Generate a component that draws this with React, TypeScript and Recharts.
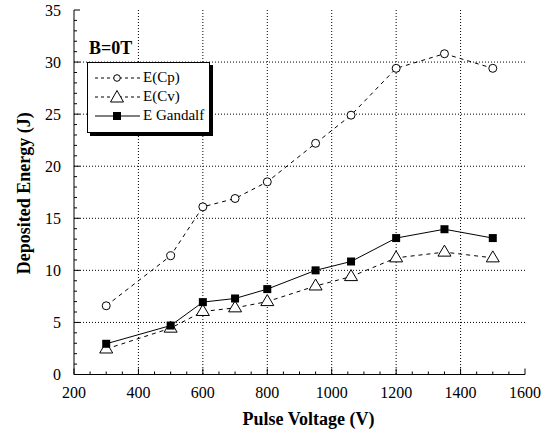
import React from 'react';
import { LineChart, Line, XAxis, YAxis, CartesianGrid, Legend, Label } from 'recharts';

const FONT = '"Liberation Serif", "Times New Roman", serif';

const voltage = [300, 500, 600, 700, 800, 950, 1060, 1200, 1350, 1500];
const energyCp = [6.6, 11.4, 16.1, 16.9, 18.5, 22.2, 24.9, 29.4, 30.8, 29.4];
const energyCv = [2.45, 4.45, 6.05, 6.4, 7.0, 8.5, 9.4, 11.2, 11.75, 11.2];
const energyGandalf = [2.95, 4.7, 6.95, 7.3, 8.2, 10.0, 10.85, 13.1, 13.95, 13.1];

const xMajor = [200, 400, 600, 800, 1000, 1200, 1400, 1600];
const yMajor = [0, 5, 10, 15, 20, 25, 30, 35];
const xAll: number[] = [];
for (let v = 200; v <= 1600; v += 50) xAll.push(v);
const yAll: number[] = [];
for (let v = 0; v <= 35; v += 1) yAll.push(v);

const X_DOMAIN = [200, 1600];
const Y_DOMAIN = [0, 35];

const data = voltage.map((v, i) => ({
  voltage: v,
  cp: energyCp[i],
  cv: energyCv[i],
  gandalf: energyGandalf[i],
}));

const X_MARGIN = 12;
const Y_MARGIN = 13;

const BottomTick = (props: any) => {
  const { x, y, payload } = props;
  const major = xMajor.includes(payload.value);
  const axisY = y - X_MARGIN;
  return (
    <g>
      <line x1={x} x2={x} y1={axisY} y2={axisY - (major ? 6 : 3)} stroke="#000" />
      {major && (
        <text x={x} y={y} dy="0.71em" textAnchor="middle" fontSize={16} fontFamily={FONT} fill="#000">
          {payload.value}
        </text>
      )}
    </g>
  );
};

const LeftTick = (props: any) => {
  const { x, y, payload } = props;
  const major = yMajor.includes(payload.value);
  const axisX = x + Y_MARGIN;
  return (
    <g>
      <line x1={axisX} x2={axisX + (major ? 6 : 3)} y1={y} y2={y} stroke="#000" />
      {major && (
        <text x={x} y={y} dy="0.35em" textAnchor="end" fontSize={16} fontFamily={FONT} fill="#000">
          {payload.value}
        </text>
      )}
    </g>
  );
};

const TopTick = (props: any) => {
  const { x, y, payload } = props;
  const major = xMajor.includes(payload.value);
  return <line x1={x} x2={x} y1={y} y2={y + (major ? 6 : 3)} stroke="#000" />;
};

const RightTick = (props: any) => {
  const { x, y, payload } = props;
  const major = yMajor.includes(payload.value);
  return <line x1={x} x2={x - (major ? 6 : 3)} y1={y} y2={y} stroke="#000" />;
};

const CircleDot = (props: any) => {
  const { cx, cy, index } = props;
  return <circle key={`c${index}`} cx={cx} cy={cy} r={4} fill="#fff" stroke="#000" strokeWidth={1} />;
};

const TriangleDot = (props: any) => {
  const { cx, cy, index } = props;
  return (
    <path
      key={`t${index}`}
      d={`M${cx},${cy - 7} L${cx + 6.5},${cy + 4} L${cx - 6.5},${cy + 4} Z`}
      fill="#fff"
      stroke="#000"
      strokeWidth={1}
    />
  );
};

const SquareDot = (props: any) => {
  const { cx, cy, index } = props;
  return <rect key={`s${index}`} x={cx - 4} y={cy - 4} width={8} height={8} fill="#000" />;
};

const legendRows = [
  { name: 'E(Cp)', dash: '3 3', mark: 'circle' },
  { name: 'E(Cv)', dash: '3 3', mark: 'triangle' },
  { name: 'E Gandalf', dash: undefined, mark: 'square' },
];

const LegendBox = () => (
  <div style={{ fontFamily: FONT, color: '#000', width: 130 }}>
    <div style={{ fontWeight: 'bold', fontSize: 18, lineHeight: '20px', marginLeft: 2, marginBottom: 4 }}>B=0T</div>
    <div
      style={{
        boxSizing: 'border-box',
        border: '1px solid #000',
        boxShadow: '3px 3px 0 #000',
        background: '#fff',
        width: 123,
        padding: '5px 3px 7px 7px',
      }}
    >
      {legendRows.map((r) => (
        <div key={r.name} style={{ display: 'flex', alignItems: 'center', height: 19 }}>
          <svg width={48} height={16} style={{ flex: 'none' }}>
            <line x1={0} x2={45} y1={8} y2={8} stroke="#000" strokeDasharray={r.dash} />
            {r.mark === 'circle' && <circle cx={22} cy={8} r={3.3} fill="#fff" stroke="#000" />}
            {r.mark === 'triangle' && <path d="M22,1.5 L28.5,13 L15.5,13 Z" fill="#fff" stroke="#000" />}
            {r.mark === 'square' && <rect x={18} y={4} width={8} height={8} fill="#000" />}
          </svg>
          <span style={{ fontSize: 15, whiteSpace: 'nowrap', fontFamily: FONT }}>{r.name}</span>
        </div>
      ))}
    </div>
  </div>
);

// grid only at the major ticks, inside the frame
const gridX = ({ offset }: any) =>
  xMajor.slice(1, -1).map((v) => offset.left + ((v - X_DOMAIN[0]) / (X_DOMAIN[1] - X_DOMAIN[0])) * offset.width);
const gridY = ({ offset }: any) =>
  yMajor.slice(1, -1).map((v) => offset.top + offset.height - ((v - Y_DOMAIN[0]) / (Y_DOMAIN[1] - Y_DOMAIN[0])) * offset.height);

export default function App() {
  return (
    <div style={{ position: 'absolute', left: 0, top: 0, background: '#fff' }}>
      <LineChart width={549} height={432} data={data} margin={{ top: 10, right: 24, left: 0, bottom: 0 }}>
        <CartesianGrid
          stroke="#000"
          strokeDasharray="1 2"
          verticalCoordinatesGenerator={gridX}
          horizontalCoordinatesGenerator={gridY}
        />
        <XAxis
          dataKey="voltage"
          type="number"
          domain={X_DOMAIN}
          allowDataOverflow
          ticks={xAll}
          interval={0}
          tickSize={0}
          tickMargin={X_MARGIN}
          tickLine={false}
          tick={<BottomTick />}
          height={57.5}
          axisLine={{ stroke: '#000' }}
        >
          <Label
            content={({ viewBox }: any) => (
              <text
                x={viewBox.x + viewBox.width / 2 + 9}
                y={viewBox.y + 50}
                textAnchor="middle"
                fontSize={18}
                fontWeight="bold"
                fontFamily={FONT}
                fill="#000"
              >
                Pulse Voltage (V)
              </text>
            )}
          />
        </XAxis>
        <XAxis
          xAxisId="top"
          orientation="top"
          type="number"
          domain={X_DOMAIN}
          allowDataOverflow
          ticks={xAll}
          interval={0}
          tickSize={0}
          tickMargin={0}
          tickLine={false}
          tick={<TopTick />}
          height={0}
          axisLine={{ stroke: '#000' }}
        />
        <YAxis
          type="number"
          domain={Y_DOMAIN}
          allowDataOverflow
          ticks={yAll}
          interval={0}
          tickSize={0}
          tickMargin={Y_MARGIN}
          tickLine={false}
          tick={<LeftTick />}
          width={74}
          axisLine={{ stroke: '#000' }}
        >
          <Label
            content={({ viewBox }: any) => (
              <text
                transform={`translate(${viewBox.x + 30}, ${viewBox.y + viewBox.height / 2 + 1}) rotate(-90)`}
                textAnchor="middle"
                fontSize={18}
                fontWeight="bold"
                fontFamily={FONT}
                fill="#000"
              >
                Deposited Energy (J)
              </text>
            )}
          />
        </YAxis>
        <YAxis
          yAxisId="right"
          orientation="right"
          type="number"
          domain={Y_DOMAIN}
          allowDataOverflow
          ticks={yAll}
          interval={0}
          tickSize={0}
          tickMargin={0}
          tickLine={false}
          tick={<RightTick />}
          width={0}
          axisLine={{ stroke: '#000' }}
        />
        <Legend
          layout="vertical"
          align="center"
          verticalAlign="middle"
          content={<LegendBox />}
          wrapperStyle={{ left: 87, top: 38, width: 135, height: 'auto' }}
        />
        <Line
          dataKey="cp"
          type="linear"
          stroke="#000"
          strokeWidth={1}
          strokeDasharray="4 4"
          dot={CircleDot}
          isAnimationActive={false}
        />
        <Line
          dataKey="cv"
          type="linear"
          stroke="#000"
          strokeWidth={1}
          strokeDasharray="4 4"
          dot={TriangleDot}
          isAnimationActive={false}
        />
        <Line
          dataKey="gandalf"
          type="linear"
          stroke="#000"
          strokeWidth={1}
          dot={SquareDot}
          isAnimationActive={false}
        />
      </LineChart>
    </div>
  );
}
